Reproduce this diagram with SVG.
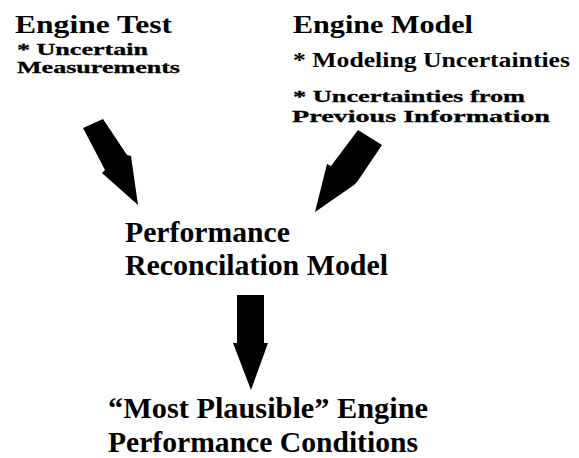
<svg xmlns="http://www.w3.org/2000/svg" width="579" height="458" viewBox="0 0 579 458">
<style>
text{font-family:"Liberation Serif","Times New Roman",Times,serif;font-weight:700;fill:#000}
.h{font-size:26px}
.s{font-size:17px;stroke:#000;stroke-width:0.3}
.t{font-size:20px}
.m{font-size:29px}
.arrow{fill:#000;stroke:none}
</style>
<rect width="579" height="458" fill="#fff"/>
<g id="engine-test">
<text class="h" x="15" y="33" textLength="157" lengthAdjust="spacingAndGlyphs">Engine Test</text>
<text class="s" x="17" y="55" textLength="131" lengthAdjust="spacingAndGlyphs">* Uncertain</text>
<text class="s" x="17" y="73" textLength="163" lengthAdjust="spacingAndGlyphs">Measurements</text>
</g>
<g id="engine-model">
<text class="h" x="293" y="33" textLength="180" lengthAdjust="spacingAndGlyphs">Engine Model</text>
<text class="t" x="293" y="67" textLength="277" lengthAdjust="spacingAndGlyphs">* Modeling Uncertainties</text>
<text class="s" x="293" y="102" textLength="232" lengthAdjust="spacingAndGlyphs">* Uncertainties from</text>
<text class="s" x="292" y="122" textLength="258" lengthAdjust="spacingAndGlyphs">Previous Information</text>
</g>
<g id="reconciliation-model">
<text class="m" x="125" y="242" textLength="165" lengthAdjust="spacingAndGlyphs">Performance</text>
<text class="m" x="125" y="275" textLength="263" lengthAdjust="spacingAndGlyphs">Reconcilation Model</text>
</g>
<g id="result">
<text class="m" x="108" y="418" textLength="320" lengthAdjust="spacingAndGlyphs">“Most Plausible” Engine</text>
<text class="m" x="108" y="452" textLength="310" lengthAdjust="spacingAndGlyphs">Performance Conditions</text>
</g>
<g id="connectors">
<polygon class="arrow" points="83,128 103,119 127,155 131,156 138,205 102,173 105,170"/>
<polygon class="arrow" points="358,130 382,145 357,182 354,185 315,212 327,164 331,166"/>
<polygon class="arrow" points="237,295 264,295 264,343 268,343 251,390 233,343 237,343"/>
</g>
</svg>
